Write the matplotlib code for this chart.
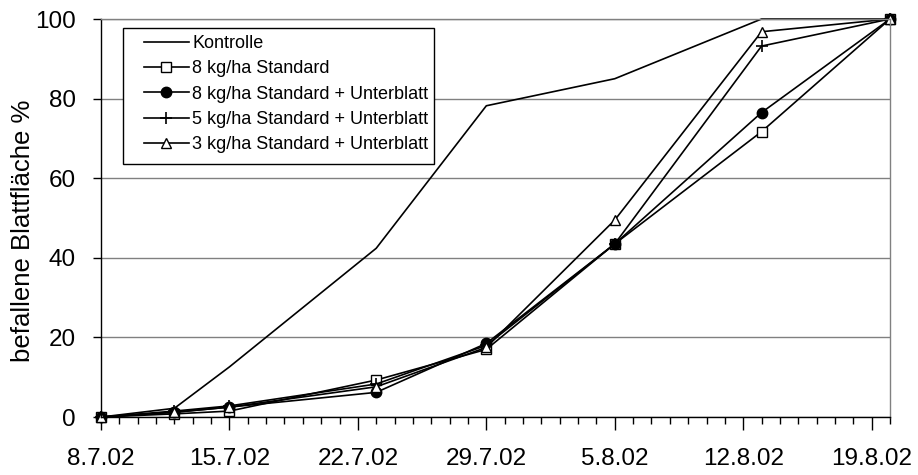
import matplotlib.pyplot as plt
import matplotlib.dates as mdates
from matplotlib.patches import Rectangle
import pandas as pd

plt.rcParams['font.family'] = ['Liberation Sans', 'DejaVu Sans']

# Boniturtermine und befallene Blattfläche (%)
dates = pd.to_datetime(['2002-07-08', '2002-07-12', '2002-07-15', '2002-07-23',
                        '2002-07-29', '2002-08-05', '2002-08-13', '2002-08-20'])
kontrolle = [0, 2.2, 12.6, 42.4, 78.2, 85, 100, 100]
std8 = [0, 0.8, 1.5, 9.3, 17, 43.5, 71.7, 100]
std8_ub = [0, 1.2, 2.5, 6.2, 18.5, 43.5, 76.5, 100]
std5_ub = [0, 1.5, 2.8, 8.3, 18, 43.5, 93.2, 100]
std3_ub = [0, 1.2, 2.5, 7.6, 17.5, 49.5, 96.8, 100]

tick_dates = pd.date_range('2002-07-08', '2002-08-19', freq='7D')
tick_labels = ['8.7.02', '15.7.02', '22.7.02', '29.7.02', '5.8.02', '12.8.02', '19.8.02']

fig = plt.figure(figsize=(9.18, 4.75), dpi=100)
ax = fig.add_axes([0.110, 0.122, 0.8595, 0.838])

ax.grid(axis='y', color='#808080', linewidth=1)
ax.set_axisbelow(True)

lw = 1.2
ax.plot(dates, kontrolle, color='black', lw=lw, label='Kontrolle', clip_on=False)
ax.plot(dates, std8, color='black', lw=lw, marker='s', ms=7, mfc='white', mec='black',
        mew=1, label='8 kg/ha Standard', clip_on=False)
ax.plot(dates, std8_ub, color='black', lw=lw, marker='o', ms=7.5, mfc='black',
        label='8 kg/ha Standard + Unterblatt', clip_on=False)
ax.plot(dates, std5_ub, color='black', lw=lw, marker='+', ms=9, mew=1.2,
        label='5 kg/ha Standard + Unterblatt', clip_on=False)
ax.plot(dates, std3_ub, color='black', lw=lw, marker='^', ms=7.5, mfc='white', mec='black',
        mew=1, label='3 kg/ha Standard + Unterblatt', clip_on=False)

ax.set_xlim(pd.Timestamp('2002-07-08'), pd.Timestamp('2002-08-20'))
ax.set_ylim(0, 100)
ax.set_xticks(tick_dates)
ax.set_xticklabels(tick_labels)
ax.xaxis.set_minor_locator(mdates.DayLocator())
ax.set_yticks([0, 20, 40, 60, 80, 100])

ax.tick_params(axis='x', which='major', direction='out', length=9, width=1,
               labelsize=17.5, pad=13)
ax.tick_params(axis='x', which='minor', direction='out', length=5, width=1)
ax.tick_params(axis='y', direction='out', length=6, width=1, labelsize=17.5, pad=12)

for side in ['left', 'bottom']:
    ax.spines[side].set_color('black')
    ax.spines[side].set_linewidth(1)
for side in ['top', 'right']:
    ax.spines[side].set_color('#808080')
    ax.spines[side].set_linewidth(1)

ax.set_ylabel('befallene Blattfläche %', fontsize=18.5)
ax.yaxis.set_label_coords(-0.084, 0.467)

# Legende ohne eigenen Rahmen, Rahmen separat als Rechteck
leg = ax.legend(loc='upper left', bbox_to_anchor=(0.054, 0.960), fontsize=13,
                frameon=False, handlelength=2.5, handletextpad=0.2,
                labelspacing=0.46, borderpad=0, borderaxespad=0)
ax.add_patch(Rectangle((0.028, 0.636), 0.394, 0.341, transform=ax.transAxes,
                       facecolor='white', edgecolor='black', linewidth=1, zorder=4))
leg.set_zorder(5)

fig.savefig('out.png', dpi=100)
